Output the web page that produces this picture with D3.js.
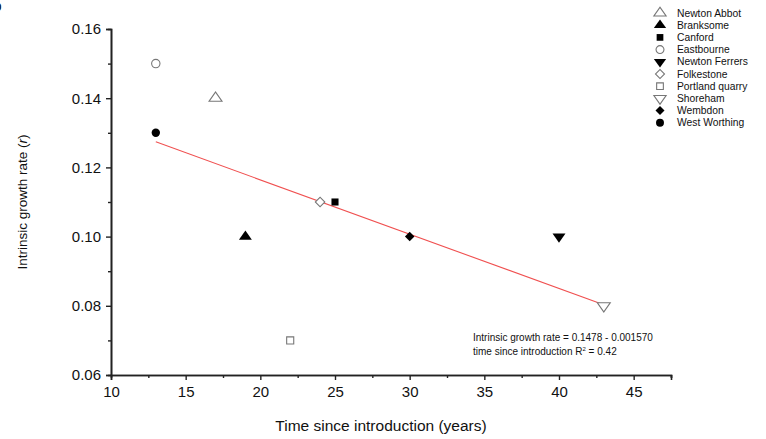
<!DOCTYPE html>
<html><head><meta charset="utf-8">
<script src="https://cdn.jsdelivr.net/npm/d3@7"></script>
<style>body{margin:0;background:#fff}svg{display:block;font-family:"Liberation Sans",Arial,sans-serif}</style>
</head><body><svg id="c" width="766" height="439"></svg>
<script>
const sites = ["Newton Abbot","Branksome","Canford","Eastbourne","Newton Ferrers","Folkestone","Portland quarry","Shoreham","Wembdon","West Worthing"];
const years = [17,19,25,13,40,24,22,43,30,13];
const rates = [0.14,0.10,0.11,0.15,0.10,0.11,0.07,0.08,0.10,0.13];
const shapes = ["triangle","triangle","square","circle","triangleDown","diamond","square","triangleDown","diamond","circle"];
const filled = [false,true,true,false,true,false,false,false,true,true];
const xTicks = [10,15,20,25,30,35,40,45];
const yTicks = [0.06,0.08,0.10,0.12,0.14,0.16];
const fitIntercept = 0.1478, fitSlope = -0.001570;
const fitRange = [13,43];

const svg = d3.select("#c");
const L=111,R=671,T=29,B=375;
const x = d3.scaleLinear().domain([10,47.5]).range([L,R]);
const y = d3.scaleLinear().domain([0.06,0.16]).range([B,T]);

// axes
const xa = svg.append("g").attr("transform",`translate(0,${B})`)
  .call(d3.axisBottom(x).tickValues(xTicks).tickSize(5).tickPadding(6).tickFormat(d3.format("d")));
const xm = svg.append("g").attr("transform",`translate(0,${B})`)
  .call(d3.axisBottom(x).tickValues(d3.range(12.5,47.6,5)).tickSize(3).tickFormat(""));
const ya = svg.append("g").attr("transform",`translate(${L},0)`)
  .call(d3.axisLeft(y).tickValues(yTicks).tickSize(5).tickPadding(5).tickFormat(d3.format(".2f")));
const ym = svg.append("g").attr("transform",`translate(${L},0)`)
  .call(d3.axisLeft(y).tickValues([0.07,0.09,0.11,0.13,0.15]).tickSize(3).tickFormat(""));
[xa,xm,ya,ym].forEach(g=>{g.select(".domain").attr("stroke","#222").attr("stroke-width",1.6);g.selectAll("line").attr("stroke","#222").attr("stroke-width",1.4);});
xa.selectAll("text").attr("font-size",15).attr("fill","#111").attr("font-family","Liberation Sans, Arial");
ya.selectAll("text").attr("font-size",15).attr("fill","#111").attr("font-family","Liberation Sans, Arial");

svg.append("text").attr("x",381).attr("y",431).attr("text-anchor","middle").attr("font-size",15.5).attr("fill","#111").text("Time since introduction (years)");
svg.append("text").attr("transform","translate(27,202) rotate(-90)").attr("text-anchor","middle").attr("font-size",13.5).attr("fill","#111")
  .attr("font-family","Liberation Sans Narrow, Liberation Sans, Arial")
  .html('Intrinsic growth rate (<tspan font-style="italic">r</tspan>)');

// regression line
svg.append("line").attr("x1",x(fitRange[0])).attr("y1",y(fitIntercept+fitSlope*fitRange[0]))
  .attr("x2",x(fitRange[1])).attr("y2",y(fitIntercept+fitSlope*fitRange[1])).attr("stroke","#f05050").attr("stroke-width",1.1);

const symMap={triangle:d3.symbolTriangle,triangleDown:d3.symbolTriangle,square:d3.symbolSquare,circle:d3.symbolCircle,diamond:d3.symbolSquare};
function sym(g,i,size){
  const p=g.append("path").attr("d",d3.symbol().type(symMap[shapes[i]]).size(size)());
  if(shapes[i]==="triangleDown") p.attr("transform","rotate(180) scale(1.1,0.9)");
  if(shapes[i]==="triangle") p.attr("transform","scale(1.1,0.9)");
  if(shapes[i]==="diamond") p.attr("transform","rotate(45) ");
  if(filled[i]) p.attr("fill","#000"); else p.attr("fill","#fff").attr("stroke","#777").attr("stroke-width",1.1);
  return p;
}
const sizes={triangle:60,triangleDown:60,square:50,circle:55,diamond:45};
sites.forEach((s,i)=>{
  const g=svg.append("g").attr("transform",`translate(${x(years[i])},${y(rates[i])})`);
  sym(g,i,sizes[shapes[i]]);
});

// legend
sites.forEach((s,i)=>{
  const yy=13+i*12.2;
  const g=svg.append("g").attr("transform",`translate(660,${yy})`);
  sym(g,i,sizes[shapes[i]]*0.9);
  svg.append("text").attr("x",677).attr("y",yy+3.6).attr("font-size",10.3).attr("fill","#111").text(s);
});

// annotation
svg.append("text").attr("x",473).attr("y",341).attr("font-size",10).attr("fill","#111").text("Intrinsic growth rate = 0.1478 - 0.001570");
svg.append("text").attr("x",473).attr("y",355).attr("font-size",10).attr("fill","#111")
  .html('time since introduction R<tspan dy="-4" font-size="6">2</tspan><tspan dy="4"> = 0.42</tspan>');

// clipped panel letter
svg.append("text").attr("x",-7).attr("y",11).attr("font-size",14).attr("font-weight","bold").attr("fill","#111").text("b");
</script></body></html>
